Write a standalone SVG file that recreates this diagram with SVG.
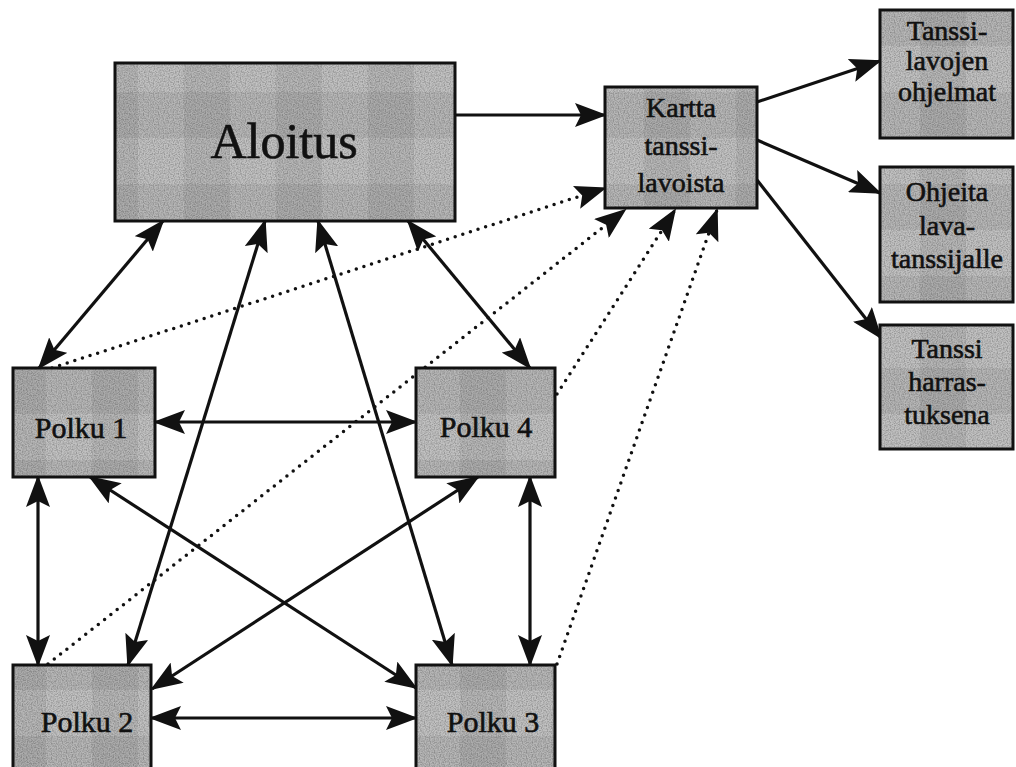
<svg xmlns="http://www.w3.org/2000/svg" width="1016" height="767" viewBox="0 0 1016 767">
<style>
.box{stroke:#111;stroke-width:3;fill:url(#plaid)}
.t{font-family:'Liberation Serif','Times New Roman',serif;fill:#111;text-anchor:middle;stroke:#111;stroke-width:0.6}
.ln{stroke:#111;stroke-width:3.2;fill:none}
.dot{stroke:#111;stroke-width:3.5;stroke-linecap:round;stroke-dasharray:0 8;fill:none}
</style>
<defs>
<filter id="grain" x="0" y="0" width="100%" height="100%">
<feTurbulence type="fractalNoise" baseFrequency="0.8" numOctaves="1" seed="4" result="n"/>
<feColorMatrix in="n" type="matrix" values="0 0 0 0 0  0 0 0 0 0  0 0 0 0 0  1.2 0 0 0 -0.45"/>
</filter>
<pattern id="plaid" width="92" height="92" patternUnits="userSpaceOnUse">
<rect width="92" height="92" fill="#c2c2c2"/>
<rect x="0" y="0" width="46" height="92" fill="#000" fill-opacity="0.06"/>
<rect x="0" y="0" width="92" height="46" fill="#000" fill-opacity="0.06"/>
<rect width="92" height="92" filter="url(#grain)" opacity="0.5"/>
</pattern>
<marker id="ah" viewBox="0 0 32 24" refX="30" refY="12" markerWidth="32" markerHeight="24" markerUnits="userSpaceOnUse" orient="auto-start-reverse">
<path d="M0,0 L32,12 L0,24 L6,12 Z" fill="#111"/>
</marker>
</defs>
<rect width="1016" height="767" fill="#fff"/>
<g id="connectors">
<line class="ln" x1="455" y1="115" x2="605" y2="115" marker-end="url(#ah)"/>
<line class="ln" x1="757" y1="102" x2="880" y2="61" marker-end="url(#ah)"/>
<line class="ln" x1="757" y1="140" x2="880" y2="193" marker-end="url(#ah)"/>
<line class="ln" x1="757" y1="180" x2="881" y2="338" marker-end="url(#ah)"/>
<line class="ln" x1="163" y1="221" x2="39" y2="368" marker-start="url(#ah)" marker-end="url(#ah)"/>
<line class="ln" x1="265" y1="221" x2="128" y2="665" marker-start="url(#ah)" marker-end="url(#ah)"/>
<line class="ln" x1="318" y1="221" x2="452" y2="665" marker-start="url(#ah)" marker-end="url(#ah)"/>
<line class="ln" x1="408" y1="221" x2="530" y2="368" marker-start="url(#ah)" marker-end="url(#ah)"/>
<line class="ln" x1="155" y1="422" x2="416" y2="422" marker-start="url(#ah)" marker-end="url(#ah)"/>
<line class="ln" x1="38" y1="477" x2="38" y2="665" marker-start="url(#ah)" marker-end="url(#ah)"/>
<line class="ln" x1="530" y1="477" x2="530" y2="665" marker-start="url(#ah)" marker-end="url(#ah)"/>
<line class="ln" x1="151" y1="718" x2="416" y2="718" marker-start="url(#ah)" marker-end="url(#ah)"/>
<line class="ln" x1="90" y1="477" x2="416" y2="688" marker-start="url(#ah)" marker-end="url(#ah)"/>
<line class="ln" x1="478" y1="477" x2="152" y2="689" marker-start="url(#ah)" marker-end="url(#ah)"/>
<line class="dot" x1="52" y1="368" x2="605" y2="188" marker-end="url(#ah)"/>
<line class="dot" x1="48" y1="664" x2="625" y2="210" marker-end="url(#ah)"/>
<line class="dot" x1="557" y1="394" x2="675" y2="210" marker-end="url(#ah)"/>
<line class="dot" x1="557" y1="664" x2="717" y2="210" marker-end="url(#ah)"/>
</g>
<g id="aloitus">
<rect class="box" x="115" y="63" width="340" height="158"/>
<text class="t" x="284" y="158" font-size="50">Aloitus</text>
</g>
<g id="kartta">
<rect class="box" x="605" y="87" width="152" height="121"/>
<text class="t" x="681" y="117" font-size="28">Kartta</text>
<text class="t" x="681" y="155" font-size="28">tanssi-</text>
<text class="t" x="681" y="192" font-size="28">lavoista</text>
</g>
<g id="ohjelmat">
<rect class="box" x="880" y="10" width="133" height="128"/>
<text class="t" x="947" y="40" font-size="28">Tanssi-</text>
<text class="t" x="947" y="70" font-size="28">lavojen</text>
<text class="t" x="947" y="101" font-size="28">ohjelmat</text>
</g>
<g id="ohjeita">
<rect class="box" x="880" y="167" width="133" height="135"/>
<text class="t" x="947" y="201" font-size="28">Ohjeita</text>
<text class="t" x="947" y="235" font-size="28">lava-</text>
<text class="t" x="947" y="268" font-size="28">tanssijalle</text>
</g>
<g id="harrastuksena">
<rect class="box" x="880" y="325" width="133" height="124"/>
<text class="t" x="947" y="358" font-size="28">Tanssi</text>
<text class="t" x="947" y="391" font-size="28">harras-</text>
<text class="t" x="947" y="424" font-size="28">tuksena</text>
</g>
<g id="polku1">
<rect class="box" x="13" y="368" width="142" height="109"/>
<text class="t" x="81" y="438" font-size="30">Polku 1</text>
</g>
<g id="polku4">
<rect class="box" x="416" y="368" width="139" height="109"/>
<text class="t" x="486" y="437" font-size="30">Polku 4</text>
</g>
<g id="polku2">
<rect class="box" x="13" y="665" width="138" height="110"/>
<text class="t" x="87" y="732" font-size="30">Polku 2</text>
</g>
<g id="polku3">
<rect class="box" x="416" y="665" width="139" height="110"/>
<text class="t" x="493" y="732" font-size="30">Polku 3</text>
</g>
</svg>
